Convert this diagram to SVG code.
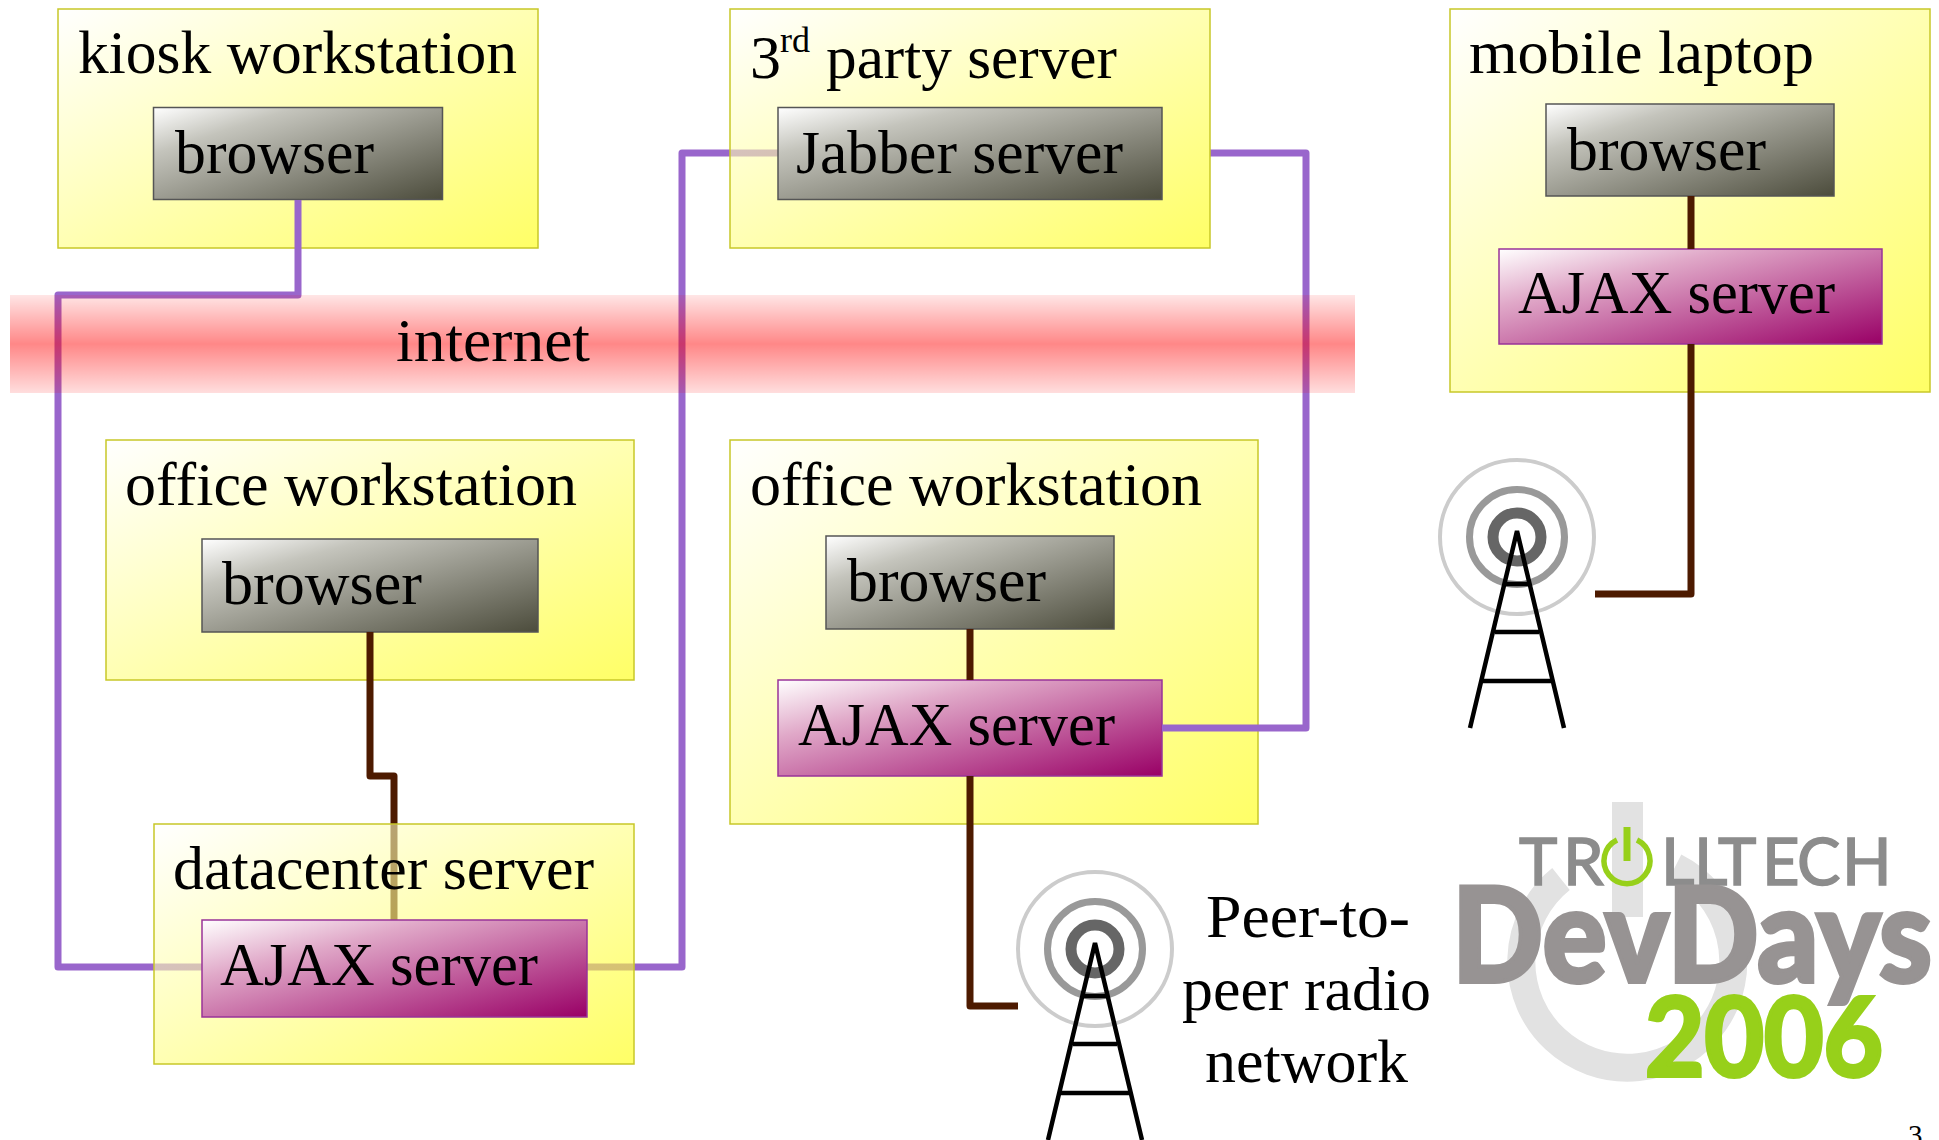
<svg xmlns="http://www.w3.org/2000/svg" width="1939" height="1140" viewBox="0 0 1939 1140">
<style>
text{font-family:"Liberation Serif","Times New Roman",serif;font-size:62px;fill:#000}
.box{fill:url(#yellow);stroke:#c8c828;stroke-width:1.5}
.br{fill:url(#grey);stroke:#555;stroke-width:1.5}
.aj{fill:url(#plum);stroke:#993399;stroke-width:1.5}
.pu{fill:none;stroke:#9966cc;stroke-width:7;stroke-linejoin:round}
.bn{fill:none;stroke:#4d1a00;stroke-width:7;stroke-linejoin:round}
.logo{font-family:Lato,"Open Sans",sans-serif}
</style>
<defs>
<linearGradient id="yellow" x1="0" y1="0" x2="1" y2="1"><stop offset="0" stop-color="#fff" stop-opacity=".6"/><stop offset="1" stop-color="#ff0" stop-opacity=".6"/></linearGradient>
<linearGradient id="grey" x1="0" y1="0" x2="1" y2="1"><stop offset="0" stop-color="#fff"/><stop offset=".25" stop-color="#c4c4bc"/><stop offset="1" stop-color="#4c4c3c"/></linearGradient>
<linearGradient id="plum" x1="0" y1="0" x2="1" y2="1"><stop offset="0" stop-color="#fff"/><stop offset=".3" stop-color="#e0a8c8"/><stop offset="1" stop-color="#990066"/></linearGradient>
<linearGradient id="band" x1="0" y1="0" x2="0" y2="1"><stop offset="0" stop-color="#f00" stop-opacity=".1"/><stop offset=".5" stop-color="#f00" stop-opacity=".47"/><stop offset="1" stop-color="#f00" stop-opacity=".13"/></linearGradient>
<g id="tower">
<circle cx="0" cy="0" r="77" fill="none" stroke="#ccc" stroke-width="4"/>
<circle cx="0" cy="0" r="47.5" fill="none" stroke="#999" stroke-width="7"/>
<circle cx="0" cy="0" r="24" fill="none" stroke="#666" stroke-width="11"/>
<path d="M-47 191L0-6L47 191M-11 47H11M-22 95H22M-34 144H34" fill="none" stroke="#000" stroke-width="4.5"/>
</g>
</defs>
<rect width="1939" height="1140" fill="#fff"/>

<g id="logo">
<path d="M1561 879A106 106 0 1 0 1675 867" fill="none" stroke="#e2e2e2" stroke-width="28"/>
<rect x="1612" y="802" width="31" height="115" fill="#e2e2e2"/>
<text class="logo" y="885" x="1519 1563 1602 1661 1694 1718 1762 1797 1842" stroke="#8c8c8c" stroke-width="1.5" style="font-size:65px;fill:#8c8c8c">TR<tspan stroke="none" style="fill-opacity:0">O</tspan>LLTECH</text>
<path d="M1617 840A23 23 0 1 0 1637 840" fill="none" stroke="#97d01a" stroke-width="5.5"/>
<rect x="1623.500" y="827" width="7" height="34" fill="#97d01a"/>
<text class="logo" x="1452" y="982" textLength="480" lengthAdjust="spacingAndGlyphs" stroke="#979393" stroke-width="4" style="font-size:132px;font-weight:900;fill:#979393">DevDays</text>
<text class="logo" x="1645" y="1076" textLength="238" lengthAdjust="spacingAndGlyphs" stroke="#97d01a" stroke-width="4" style="font-size:110px;font-weight:700;fill:#97d01a">2006</text>
</g>

<g id="kiosk">
<rect class="box" x="58" y="9" width="480" height="239"/>
<text x="78" y="73" textLength="439" lengthAdjust="spacingAndGlyphs">kiosk workstation</text>
<rect class="br" x="153.500" y="107.500" width="289" height="92"/>
<text x="175" y="173" textLength="199" lengthAdjust="spacingAndGlyphs">browser</text>
</g>
<g id="mobile">
<rect class="box" x="1450" y="9" width="480" height="383"/>
<text x="1469" y="73" textLength="345" lengthAdjust="spacingAndGlyphs">mobile laptop</text>
<rect class="br" x="1546" y="104" width="288" height="92"/>
<text x="1567" y="170" textLength="199" lengthAdjust="spacingAndGlyphs">browser</text>
<rect class="aj" x="1499" y="249" width="383" height="95"/>
<text x="1518" y="313" textLength="317" lengthAdjust="spacingAndGlyphs">AJAX server</text>
</g>
<g id="office-a">
<rect class="box" x="106" y="440" width="528" height="240"/>
<text x="125" y="505" textLength="452" lengthAdjust="spacingAndGlyphs">office workstation</text>
<rect class="br" x="202" y="539" width="336" height="93"/>
<text x="222" y="604" textLength="200" lengthAdjust="spacingAndGlyphs">browser</text>
</g>
<g id="office-b">
<rect class="box" x="730" y="440" width="528" height="384"/>
<text x="750" y="505" textLength="452" lengthAdjust="spacingAndGlyphs">office workstation</text>
<rect class="br" x="826" y="536" width="288" height="93"/>
<text x="847" y="601" textLength="199" lengthAdjust="spacingAndGlyphs">browser</text>
<rect class="aj" x="778" y="680" width="384" height="96"/>
<text x="798" y="745" textLength="317" lengthAdjust="spacingAndGlyphs">AJAX server</text>
</g>

<g id="connectors">
<path class="pu" d="M298 200V295H58V967H202"/>
<path class="pu" d="M587 967H682V153H778"/>
<path class="pu" d="M1210 153H1306V728H1162"/>
<path class="bn" d="M370 632V776H394V920"/>
<path class="bn" d="M970 629V680M970 776V1006H1018"/>
<path class="bn" d="M1691 196V249M1691 344V594H1595"/>
</g>

<g id="third-party">
<rect class="box" x="730" y="9" width="480" height="239"/>
<text x="750" y="78">3</text>
<text x="780" y="52" textLength="30" lengthAdjust="spacingAndGlyphs" style="font-size:36px">rd</text>
<text x="826" y="78" textLength="291" lengthAdjust="spacingAndGlyphs">party server</text>
<rect class="br" x="778" y="107.500" width="384" height="92"/>
<text x="796" y="173" textLength="327" lengthAdjust="spacingAndGlyphs">Jabber server</text>
</g>
<g id="datacenter">
<rect class="box" x="154" y="824" width="480" height="240"/>
<text x="173" y="889" textLength="421" lengthAdjust="spacingAndGlyphs">datacenter server</text>
<rect class="aj" x="202" y="920" width="385" height="97"/>
<text x="220" y="985" textLength="318" lengthAdjust="spacingAndGlyphs">AJAX server</text>
</g>
<g id="internet">
<rect x="10" y="295" width="1345" height="98" fill="url(#band)"/>
<text x="396" y="361" textLength="194" lengthAdjust="spacingAndGlyphs">internet</text>
</g>

<g id="radio-a"><use href="#tower" x="1517" y="537"/></g>
<g id="radio-b"><use href="#tower" x="1095" y="949"/>
<text x="1206" y="937" textLength="204" lengthAdjust="spacingAndGlyphs">Peer-to-</text>
<text x="1182" y="1010" textLength="249" lengthAdjust="spacingAndGlyphs">peer radio</text>
<text x="1205" y="1082" textLength="203" lengthAdjust="spacingAndGlyphs">network</text>
</g>
<text x="1908" y="1145" style="font-size:29px">3</text>
</svg>
